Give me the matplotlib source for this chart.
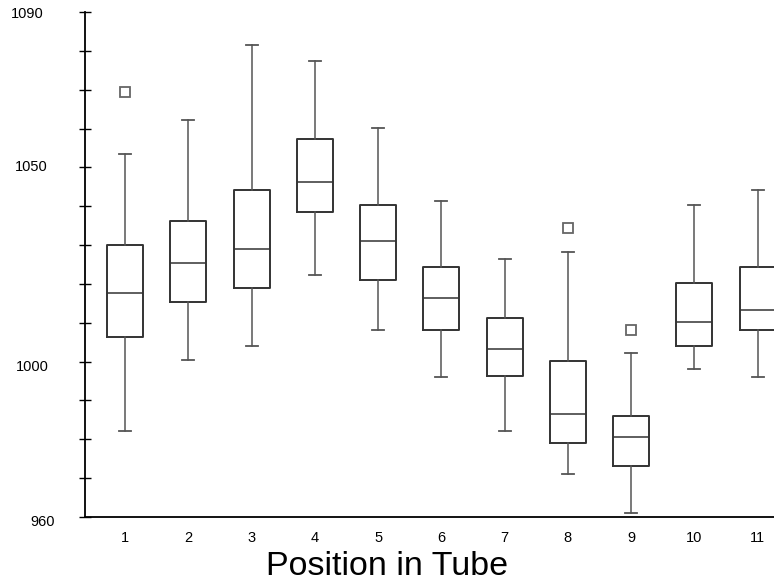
import matplotlib
matplotlib.use('Agg')
import matplotlib.pyplot as plt
from matplotlib.transforms import ScaledTranslation

positions = [1, 2, 3, 4, 5, 6, 7, 8, 9, 10, 11]
whisk_lo = [982.1, 1000.3, 1004.0, 1022.2, 1008.2, 996.1, 982.1, 971.1, 961.1, 998.2, 996.1]
q1 = [1006.3, 1015.3, 1019.0, 1038.4, 1021.0, 1008.2, 996.2, 979.0, 973.1, 1004.0, 1008.2]
med = [1017.7, 1025.3, 1029.1, 1046.3, 1031.1, 1016.4, 1003.3, 986.5, 980.7, 1010.2, 1013.3]
q3 = [1030.1, 1036.2, 1044.1, 1057.2, 1040.2, 1024.3, 1011.2, 1000.1, 986.0, 1020.2, 1024.3]
whisk_hi = [1053.5, 1062.3, 1081.6, 1077.5, 1060.2, 1041.4, 1026.3, 1028.3, 1002.2, 1040.4, 1044.1]
outliers = [[1069.4], [], [], [], [], [], [], [1034.4], [1008.2], [], []]

y_labels = [960, 1000, 1050, 1090]
y_minor = list(range(960, 1091, 10))

plt.rcParams['font.family'] = ['Liberation Sans', 'DejaVu Sans']
fig = plt.figure(figsize=(7.74, 5.85), dpi=100)
ax = fig.add_axes([85/774, 1-517/585, 1-85/774, (517-12)/585])

stats = [dict(whislo=a, q1=b, med=c, q3=d, whishi=e, fliers=f)
         for a, b, c, d, e, f in zip(whisk_lo, q1, med, q3, whisk_hi, outliers)]
ax.bxp(stats, positions=positions, widths=0.57, capwidths=0.19, showfliers=True,
       boxprops=dict(color='#333333', linewidth=1.4),
       whiskerprops=dict(color='#555555', linewidth=1.1),
       capprops=dict(color='#555555', linewidth=1.3),
       medianprops=dict(color='#333333', linewidth=1.1),
       flierprops=dict(marker='s', markersize=6.5, markerfacecolor='white',
                       markeredgecolor='#666666', markeredgewidth=1.3))

ax.set_xlim(0.366, 11.26)
ax.set_ylim(960, 1090)
ax.set_yticks(y_labels)
ax.set_yticks(y_minor, minor=True)
ax.tick_params(axis='y', which='both', direction='inout', length=8, width=1.0,
               labelsize=10.5, pad=26)
ax.tick_params(axis='x', length=0, labelsize=10.5, pad=10)
ax.set_xticks(positions)
ax.set_xticklabels([str(p) for p in positions])
# the original labels are not lined up; nudge each one (pixels right, down)
nudges = {960: (12, 4), 1000: (5, 4), 1050: (4, -2), 1090: (0, 0)}
for lab, v in zip(ax.get_yticklabels(), y_labels):
    dx, dy = nudges[v]
    lab.set_transform(lab.get_transform() + ScaledTranslation(dx/100, -dy/100, fig.dpi_scale_trans))
for s in ['top', 'right']:
    ax.spines[s].set_visible(False)
for s in ['left', 'bottom']:
    ax.spines[s].set_linewidth(1.3)
ax.set_xlabel('Position in Tube', fontsize=24.5)
ax.xaxis.set_label_coords((387-85)/(774-85), -0.068)

fig.savefig('out.png', dpi=100)
